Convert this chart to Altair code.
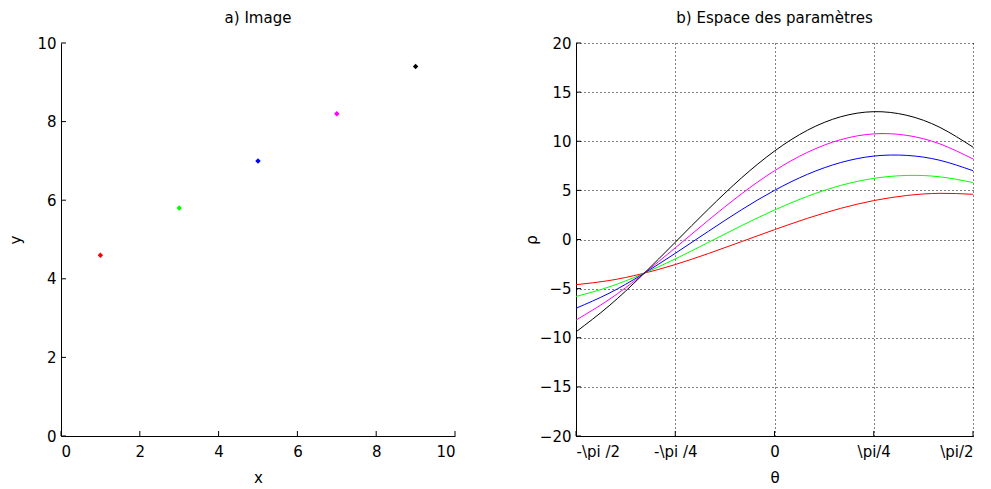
import json
import altair as alt
import pandas as pd

# ---- data: a) image points ----
px = [1, 3, 5, 7, 9]
py = [4.6, 5.8, 7.0, 8.2, 9.4]
pcol = ["#ff0000", "#00ff00", "#0000ff", "#ff00ff", "#000000"]
pname = ["p1", "p2", "p3", "p4", "p5"]

# ---- data: b) parameter space curves (rho read at theta in degrees) ----
theta = [-90, -75, -60, -45, -30, -15, 0, 15, 30, 45, 60, 75, 90]
rho_p1 = [-4.6, -4.18, -3.48, -2.55, -1.43, -0.22, 1.0, 2.16, 3.17, 3.96, 4.48, 4.70, 4.6]
rho_p2 = [-5.8, -4.83, -3.52, -1.98, -0.30, 1.40, 3.0, 4.40, 5.50, 6.22, 6.52, 6.38, 5.8]
rho_p3 = [-7.0, -5.47, -3.56, -1.41, 0.83, 3.02, 5.0, 6.64, 7.83, 8.49, 8.56, 8.06, 7.0]
rho_p4 = [-8.2, -6.11, -3.60, -0.85, 1.96, 4.64, 7.0, 8.88, 10.16, 10.75, 10.60, 9.73, 8.2]
rho_p5 = [-9.4, -6.75, -3.64, -0.28, 3.09, 6.26, 9.0, 11.13, 12.49, 13.01, 12.64, 11.41, 9.4]

x_ticks = [0, 2, 4, 6, 8, 10]
y_ticks = [0, 2, 4, 6, 8, 10]
t_ticks = [-90, -45, 0, 45, 90]
t_labels = ["-\\pi /2", "-\\pi /4", "0", "\\pi/4", "\\pi/2"]
r_ticks = [-20, -15, -10, -5, 0, 5, 10, 15, 20]

FONT = "DejaVu Sans"
FS = 15
W1, H = 394, 393
W2 = 397
TICK = 5

pts = pd.DataFrame({"x": px, "y": py, "name": pname})
rows = []
for name, series in zip(pname, [rho_p1, rho_p2, rho_p3, rho_p4, rho_p5]):
    for t, r in zip(theta, series):
        rows.append({"theta": t, "rho": r, "name": name})
curves = pd.DataFrame(rows)

color_scale = alt.Scale(domain=pname, range=pcol)

axis_common = dict(
    domainColor="black", domainOpacity=1, domainWidth=1,
    labelColor="black", titleColor="black",
    labelFont=FONT, titleFont=FONT, labelFontSize=FS, titleFontSize=FS,
    titleFontWeight="normal", ticks=False,
)

# ----- left panel -----
xs1 = alt.Scale(domain=[0, 10], nice=False, zero=False)
ys1 = alt.Scale(domain=[0, 10], nice=False, zero=False)
xa1 = alt.Axis(values=x_ticks, grid=False, title="x", labelPadding=8, titlePadding=11, **axis_common)
ya1 = alt.Axis(values=y_ticks, grid=False, title="y", labelPadding=5, titlePadding=13, **axis_common)

left_pts = alt.Chart(pts).mark_point(shape="diamond", filled=True, size=30, opacity=1).encode(
    x=alt.X("x:Q", scale=xs1, axis=xa1),
    y=alt.Y("y:Q", scale=ys1, axis=ya1),
    color=alt.Color("name:N", scale=color_scale, legend=None),
)
left_xt = alt.Chart(pd.DataFrame({"x": x_ticks})).mark_rule(color="black").encode(
    x=alt.X("x:Q", scale=xs1, axis=xa1), y=alt.value(H - TICK), y2=alt.value(H))
left_yt = alt.Chart(pd.DataFrame({"y": y_ticks})).mark_rule(color="black").encode(
    y=alt.Y("y:Q", scale=ys1, axis=ya1), x=alt.value(0), x2=alt.value(TICK))

left = alt.layer(left_pts, left_xt, left_yt).properties(
    width=W1, height=H,
    title=alt.TitleParams("a) Image", font=FONT, fontSize=FS, fontWeight="normal", color="black", offset=10),
)

# ----- right panel -----
xs2 = alt.Scale(domain=[-90, 90], nice=False, zero=False)
ys2 = alt.Scale(domain=[-20, 20], nice=False, zero=False)
label_expr = " : ".join(
    f"datum.value == {v} ? {json.dumps(l)}" for v, l in zip(t_ticks, t_labels)
) + " : ''"

grid_common = dict(grid=True, gridColor="black", gridDash=[1, 3], gridOpacity=1, gridWidth=1)
xa2 = alt.Axis(values=t_ticks, labelExpr=label_expr, title="θ", labelPadding=8, titlePadding=11,
               **grid_common, **axis_common)
ya2 = alt.Axis(values=r_ticks, title="ρ", labelPadding=5, titlePadding=0, **grid_common, **axis_common)

right_lines = alt.Chart(curves).mark_line(strokeWidth=1, interpolate="natural").encode(
    x=alt.X("theta:Q", scale=xs2, axis=xa2),
    y=alt.Y("rho:Q", scale=ys2, axis=ya2),
    color=alt.Color("name:N", scale=color_scale, legend=None),
    detail="name:N",
)
right_xt = alt.Chart(pd.DataFrame({"theta": t_ticks})).mark_rule(color="black").encode(
    x=alt.X("theta:Q", scale=xs2, axis=xa2), y=alt.value(H - TICK), y2=alt.value(H))
right_yt = alt.Chart(pd.DataFrame({"rho": r_ticks})).mark_rule(color="black").encode(
    y=alt.Y("rho:Q", scale=ys2, axis=ya2), x=alt.value(0), x2=alt.value(TICK))

right = alt.layer(right_lines, right_xt, right_yt).properties(
    width=W2, height=H,
    title=alt.TitleParams("b) Espace des paramètres", font=FONT, fontSize=FS, fontWeight="normal", color="black", offset=10),
)

chart = alt.hconcat(left, right, spacing=68).properties(
    padding={"left": 0, "top": 3, "right": 0, "bottom": 0}
).configure(
    background="white",
    view=alt.ViewConfig(stroke="transparent", strokeWidth=0),
    axis=alt.AxisConfig(domainColor="black", labelColor="black", titleColor="black"),
)

chart.save("out.html", embed_options={"renderer": "svg", "actions": False})
